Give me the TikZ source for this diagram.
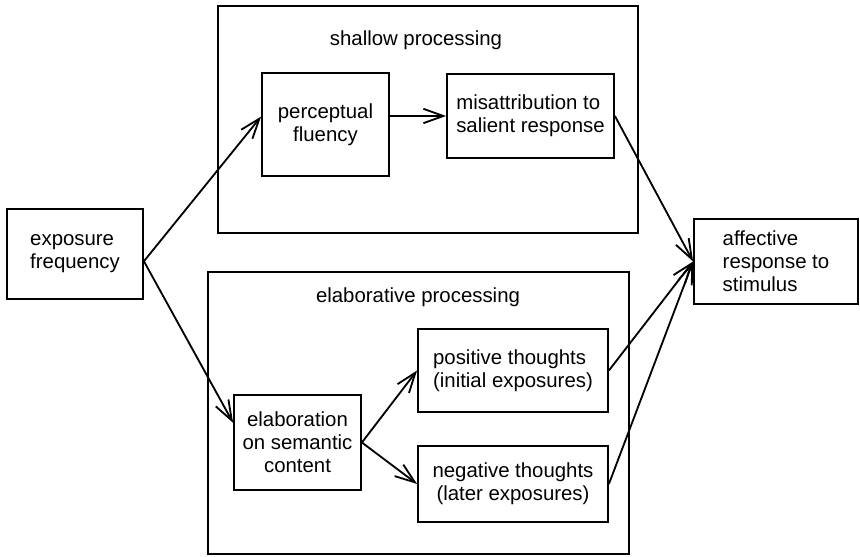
\documentclass[tikz,border=0pt]{standalone}
\usepackage{fontspec}
\setmainfont{Liberation Sans}
\usetikzlibrary{arrows.meta,positioning}

\tikzset{
  box/.style={draw,line width=1.3pt,inner sep=2pt,align=left,
    font=\fontsize{14.5}{16.5}\selectfont},
  group/.style={draw,line width=1.3pt,inner sep=0pt},
  grouptitle/.style={font=\fontsize{14.5}{16.5}\selectfont},
  >={Straight Barb[length=0.5cm,width=0.36cm]}
}

\begin{document}
\begin{tikzpicture}[line width=1.3pt]
        \useasboundingbox (0,0) rectangle (21.5,13.925);

        % processing routes
        \node[group,minimum width=10.5cm,minimum height=5.675cm] at (10.7, 10.9375)(shallow){};
        \node[group,minimum width=10.525cm,minimum height=7.05cm] at (10.4625, 3.6)(elabor){};
        \node[grouptitle] at (10.4, 12.925)(shallowtitle){shallow processing};
        \node[grouptitle] at (10.45, 6.5)(elabortitle){elaborative processing};

        \node[box,minimum width=3.4cm,minimum height=2.25cm] at (1.875, 7.575)(expo){exposure\\frequency};
        \node[box,align=center,minimum width=3.175cm,minimum height=2.575cm] at (8.1375, 10.8125)(perc){perceptual\\fluency};
        \node[box,minimum width=4.175cm,minimum height=2.1cm] at (13.2625, 11.025)(misat){misattribution to\\salient response};
        \node[box,align=center,minimum width=3.175cm,minimum height=2.375cm] at (7.4375, 2.8625)(elab){elaboration\\on semantic\\content};
        \node[box,minimum width=4.75cm,minimum height=2.075cm] at (12.825, 4.6625)(pos){positive thoughts\\(initial exposures)};
        \node[box,align=center,minimum width=4.75cm,minimum height=1.9cm] at (12.825, 1.825)(neg){negative thoughts\\(later exposures)};
        \node[box,minimum width=4.1cm,minimum height=2.125cm] at (19.4, 7.3875)(affect){affective\\response to\\stimulus};

        \path[->]
        (expo.-6)edge (perc.173)
        (expo.-6)edge (elab.163)
        (perc.east |- misat.west)edge (misat.west)
        (misat.east)edge (affect.west)
        (elab.east)edge (pos.west)
        (elab.east)edge (neg.west)
        (pos.east)edge (affect.west)
        (neg.east)edge (affect.west)
        ;
    \end{tikzpicture}
\end{document}
